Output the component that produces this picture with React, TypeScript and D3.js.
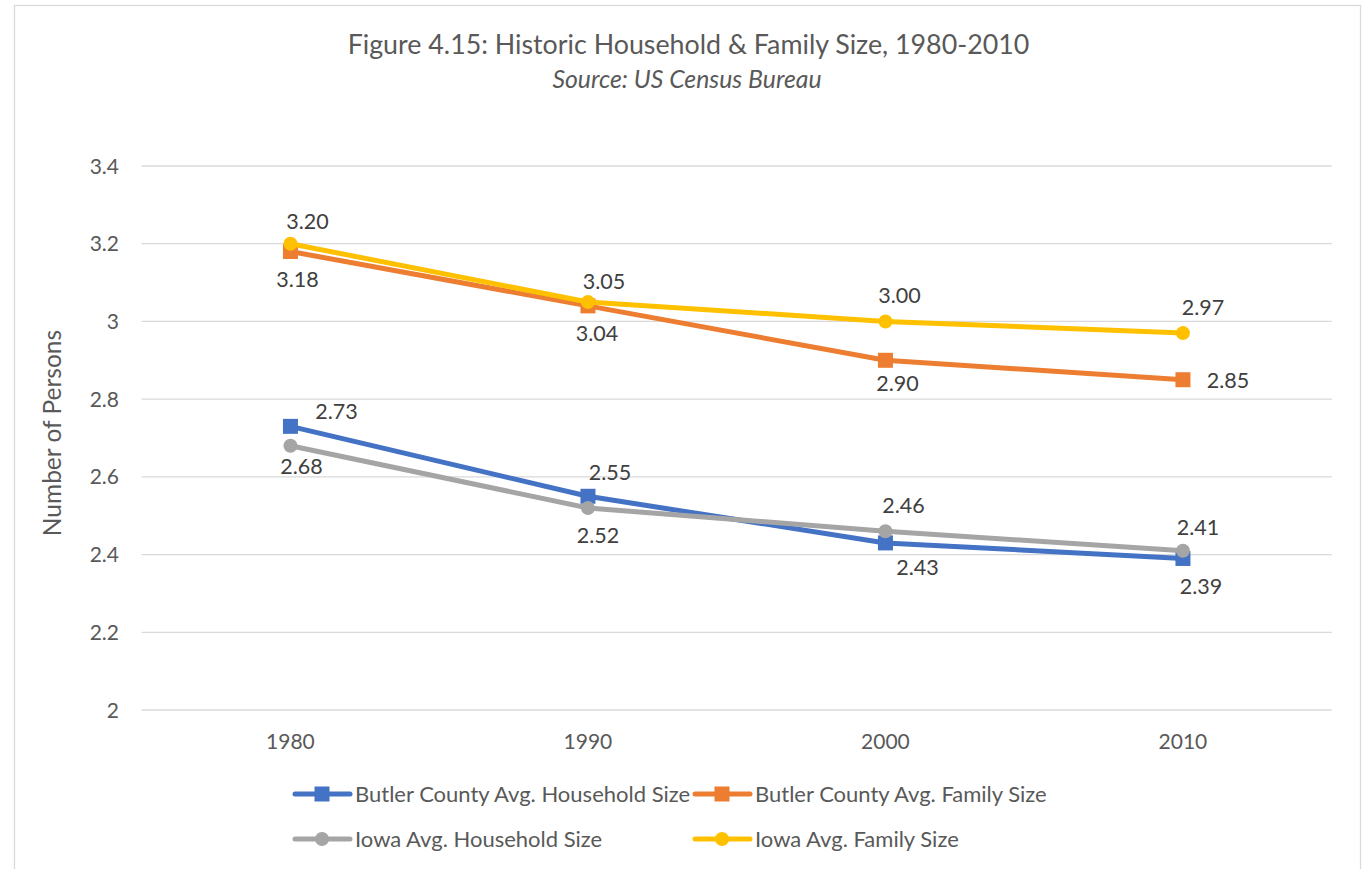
import React from "react";
import * as d3 from "d3";

const years = ["1980", "1990", "2000", "2010"];
const butlerHousehold = [2.73, 2.55, 2.43, 2.39];
const butlerFamily = [3.18, 3.04, 2.9, 2.85];
const iowaHousehold = [2.68, 2.52, 2.46, 2.41];
const iowaFamily = [3.2, 3.05, 3.0, 2.97];
const yTicks = [2, 2.2, 2.4, 2.6, 2.8, 3, 3.2, 3.4];
const seriesNames = [
  "Butler County Avg. Household Size",
  "Butler County Avg. Family Size",
  "Iowa Avg. Household Size",
  "Iowa Avg. Family Size",
];

// label offsets (dx, dy of label center relative to point)
const labelOffsets = [
  [[46, -15], [22, -24], [32, 25], [18, 28]],
  [[7, 28], [9, 28], [12, 23], [45, 1]],
  [[11, 21], [10, 28], [18, -26], [15, -23]],
  [[17, -22], [16, -21], [14, -26], [20, -26]],
];

const FONT = "Lato, 'Open Sans', sans-serif";
const colors = ["#4472C4", "#ED7D31", "#A5A5A5", "#FFC000"];
const shapes = ["square", "square", "circle", "circle"];

export default function App() {
  const W = 1366;
  const H = 869;
  const x = d3.scalePoint<string>().domain(years).range([141.7, 1331.7]).padding(0.5);
  const y = d3.scaleLinear().domain([2, 3.4]).range([710, 166]);
  const allSeries = [butlerHousehold, butlerFamily, iowaHousehold, iowaFamily];
  const line = d3
    .line<number>()
    .x((_, i) => x(years[i]) as number)
    .y((d) => y(d));

  const marker = (shape: string, cx: number, cy: number, color: string, key?: any) =>
    shape === "square" ? (
      <rect key={key} x={cx - 7.5} y={cy - 7.5} width={15} height={15} fill={color} />
    ) : (
      <circle key={key} cx={cx} cy={cy} r={7} fill={color} />
    );

  const legendPos = [
    [295, 794],
    [695, 794],
    [295, 839],
    [695, 839],
  ];

  return (
    <svg
      width={W}
      height={H}
      style={{ position: "absolute", left: 0, top: 0, background: "#fff" }}
      fontFamily={FONT}
    >
      <rect x={14.5} y={5.5} width={1346} height={900} fill="#fff" stroke="#d9d9d9" strokeWidth={1.3} />
      <text x={688.5} y={54} textAnchor="middle" fontSize={26.8} fill="#595959">
        Figure 4.15: Historic Household &amp; Family Size, 1980-2010
      </text>
      <text x={687} y={88} textAnchor="middle" fontSize={24.8} fontStyle="italic" fill="#595959">
        Source: US Census Bureau
      </text>

      {yTicks.map((t) => (
        <g key={t}>
          <line x1={141.7} x2={1331.7} y1={y(t)} y2={y(t)} stroke="#d9d9d9" strokeWidth={1.3} />
          <text x={119} y={y(t) + 7.5} textAnchor="end" fontSize={21} fill="#595959">
            {String(t)}
          </text>
        </g>
      ))}

      {years.map((yr) => (
        <text key={yr} x={x(yr)} y={749} textAnchor="middle" fontSize={21} fill="#595959">
          {yr}
        </text>
      ))}

      <text
        transform={`translate(61,433) rotate(-90)`}
        textAnchor="middle"
        fontSize={24.5}
        fill="#595959"
      >
        Number of Persons
      </text>

      {allSeries.map((s, si) => (
        <g key={si}>
          <path d={line(s) || ""} fill="none" stroke={colors[si]} strokeWidth={5} strokeLinejoin="round" strokeLinecap="round" />
          {s.map((v, i) => marker(shapes[si], x(years[i]) as number, y(v), colors[si], i))}
        </g>
      ))}

      {allSeries.map((s, si) =>
        s.map((v, i) => (
          <text
            key={`${si}-${i}`}
            x={(x(years[i]) as number) + labelOffsets[si][i][0]}
            y={y(v) + labelOffsets[si][i][1] + 7.5}
            textAnchor="middle"
            fontSize={21.5}
            fill="#404040"
          >
            {v.toFixed(2)}
          </text>
        ))
      )}

      {seriesNames.map((name, si) => {
        const [lx, ly] = legendPos[si];
        return (
          <g key={name}>
            <line x1={lx} x2={lx + 55} y1={ly} y2={ly} stroke={colors[si]} strokeWidth={5} strokeLinecap="round" />
            {marker(shapes[si], lx + 27, ly, colors[si])}
            <text x={lx + 60} y={ly + 7.5} fontSize={22} fill="#595959">
              {name}
            </text>
          </g>
        );
      })}
    </svg>
  );
}
